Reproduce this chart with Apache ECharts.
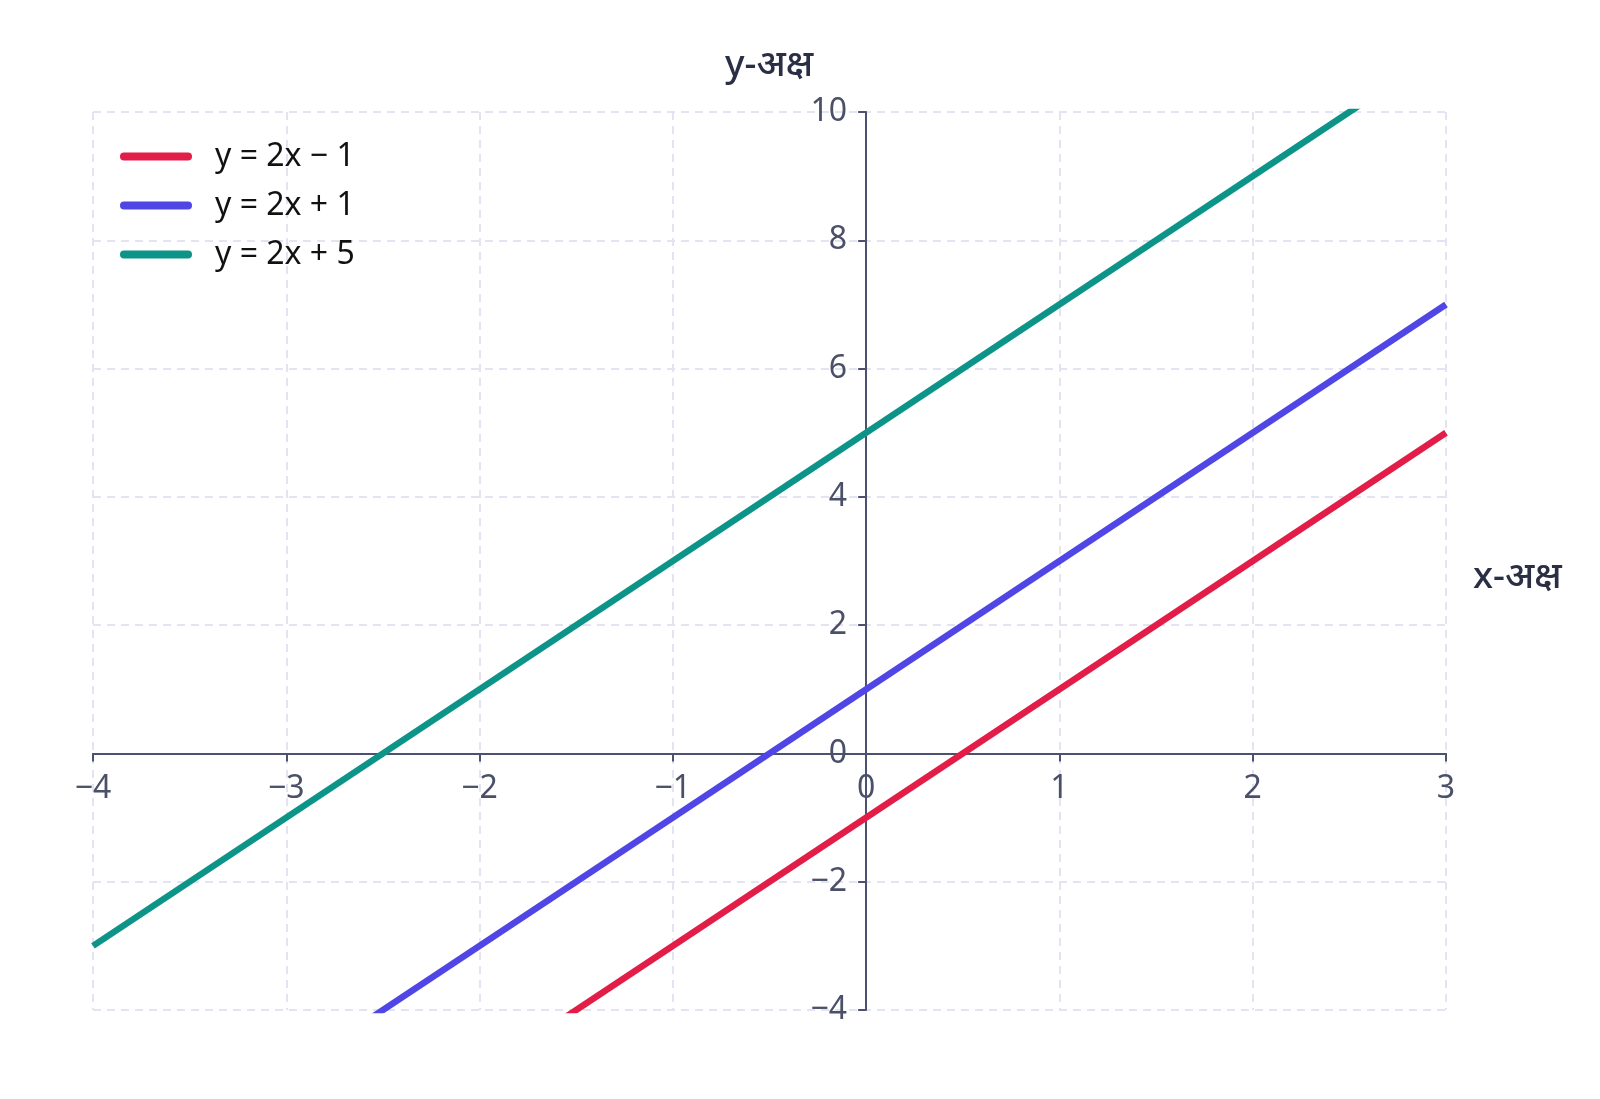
<!DOCTYPE html>
<html>
<head>
<meta charset="utf-8">
<script src="https://cdn.jsdelivr.net/npm/echarts@6/dist/echarts.min.js"></script>
<style>
html,body{margin:0;padding:0;background:#fff;}
#chart{width:1600px;height:1099px;}
</style>
</head>
<body>
<div id="chart"></div>
<script>
// Data
const seriesNames = ['y = 2x − 1', 'y = 2x + 1', 'y = 2x + 5'];
const xValues = [-4, 3];
const yRed = [-9, 5];
const yBlue = [-7, 7];
const yTeal = [-3, 11];
const xTicks = [-4, -3, -2, -1, 0, 1, 2, 3];
const yTicks = [-4, -2, 0, 2, 4, 6, 8, 10];
const xTitle = 'x-अक्ष';
const yTitle = 'y-अक्ष';

const colors = ['#e11d48', '#4f46e5', '#0d9488'];
const font = '"Noto Sans", "Open Sans", sans-serif';
const labelColor = '#4a5068';
const axisColor = '#4b5270';
const gridColor = '#e3e3f1';

const fmt = v => String(v).replace('-', '\u2212');

// layout
const W = 1600, H = 1099;
const gLeft = 93, gRight = 154, gTop = 112, gBottom = 89;
const gW = W - gLeft - gRight, gH = H - gTop - gBottom;
const xMin = xTicks[0], xMax = xTicks[xTicks.length - 1];
const yMin = yTicks[0], yMax = yTicks[yTicks.length - 1];
// move axes so they cross at zero
const xAxisOffset = -((0 - yMin) / (yMax - yMin)) * gH;
const yAxisOffset = -((0 - xMin) / (xMax - xMin)) * gW;

const chart = echarts.init(document.getElementById('chart'));
const ySets = [yRed, yBlue, yTeal];

chart.setOption({
  animation: false,
  color: colors,
  grid: { left: gLeft, right: gRight, top: gTop, bottom: gBottom, containLabel: false },
  legend: {
    left: 115, top: 133, orient: 'vertical',
    itemWidth: 72, itemHeight: 8, itemGap: 12,
    icon: 'path://M4,0 L68,0 A4,4 0 0 1 68,8 L4,8 A4,4 0 0 1 4,0 Z',
    textStyle: { fontFamily: font, fontSize: 32, color: '#111', lineHeight: 37, padding: [0, 0, 0, 18] },
    data: seriesNames
  },
  xAxis: {
    type: 'value', min: xMin, max: xMax, interval: 1,
    position: 'bottom', offset: xAxisOffset,
    axisLine: { onZero: false, lineStyle: { color: axisColor, width: 2 } },
    axisTick: { show: true, length: 8, lineStyle: { color: axisColor, width: 2 } },
    axisLabel: { fontFamily: font, fontSize: 32, color: labelColor, margin: 19, formatter: fmt },
    splitLine: { show: true, lineStyle: { color: gridColor, type: [8, 6], width: 2 } }
  },
  yAxis: {
    type: 'value', min: yMin, max: yMax, interval: 2,
    position: 'left', offset: yAxisOffset,
    axisLine: { show: true, onZero: false, lineStyle: { color: axisColor, width: 2 } },
    axisTick: { show: true, length: 8, lineStyle: { color: axisColor, width: 2 } },
    axisLabel: { fontFamily: font, fontSize: 32, color: labelColor, margin: 19, formatter: fmt },
    splitLine: { show: true, lineStyle: { color: gridColor, type: [8, 6], width: 2 } }
  },
  graphic: [
    { type: 'text', left: 725, top: 47, style: { text: yTitle, font: '500 37px ' + font, fill: '#2a2f45' } },
    { type: 'text', left: 1473, top: 559, style: { text: xTitle, font: '500 37px ' + font, fill: '#2a2f45' } }
  ],
  series: seriesNames.map((name, i) => ({
    name: name,
    type: 'line',
    data: xValues.map((x, j) => [x, ySets[i][j]]),
    showSymbol: false,
    symbol: 'none',
    clip: true,
    lineStyle: { width: 6.5, color: colors[i] },
    itemStyle: { color: colors[i] }
  }))
});
</script>
</body>
</html>
